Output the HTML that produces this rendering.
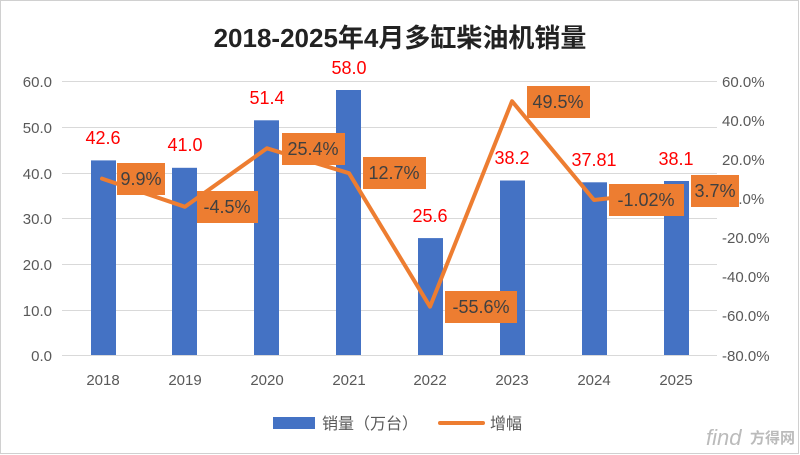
<!DOCTYPE html><html><head><meta charset="utf-8"><style>body{margin:0;background:#fff}svg{display:block}text{font-family:"Liberation Sans","Noto Sans CJK SC",sans-serif}</style></head><body>
<svg width="800" height="455" viewBox="0 0 800 455">
<rect x="0.5" y="0.5" width="798" height="453" fill="#fff" stroke="#d0d0d0"/>
<text x="400" y="47" text-anchor="middle" font-size="26" font-weight="bold" fill="#222">2018-2025年4月多缸柴油机销量</text>
<g stroke="#d9d9d9" stroke-width="1">
<line x1="62" x2="717" y1="81.5" y2="81.5"/><line x1="62" x2="717" y1="127.5" y2="127.5"/><line x1="62" x2="717" y1="173.5" y2="173.5"/><line x1="62" x2="717" y1="218.5" y2="218.5"/><line x1="62" x2="717" y1="264.5" y2="264.5"/><line x1="62" x2="717" y1="310.5" y2="310.5"/><line x1="62" x2="717" y1="355.5" y2="355.5"/>
</g>
<g font-size="15" fill="#595959" text-anchor="end">
<text x="52" y="87">60.0</text><text x="52" y="133">50.0</text><text x="52" y="179">40.0</text><text x="52" y="224">30.0</text><text x="52" y="270">20.0</text><text x="52" y="316">10.0</text><text x="52" y="361">0.0</text>
</g>
<g font-size="15" fill="#595959" text-anchor="start">
<text x="722" y="87">60.0%</text><text x="722" y="126">40.0%</text><text x="722" y="165">20.0%</text><text x="730" y="204">0.0%</text><text x="722" y="243">-20.0%</text><text x="722" y="282">-40.0%</text><text x="722" y="321">-60.0%</text><text x="722" y="361">-80.0%</text>
</g>
<g font-size="15" fill="#595959" text-anchor="middle">
<text x="103" y="385">2018</text><text x="185" y="385">2019</text><text x="267" y="385">2020</text><text x="349" y="385">2021</text><text x="430" y="385">2022</text><text x="512" y="385">2023</text><text x="594" y="385">2024</text><text x="676" y="385">2025</text>
</g>
<g fill="#4472c4">
<rect x="91" y="160.4" width="25" height="194.6"/>
<rect x="172" y="167.8" width="25" height="187.2"/>
<rect x="254" y="120.3" width="25" height="234.7"/>
<rect x="336" y="90" width="25" height="265"/>
<rect x="418" y="238.1" width="25" height="116.9"/>
<rect x="500" y="180.5" width="25" height="174.5"/>
<rect x="582" y="182.3" width="25" height="172.7"/>
<rect x="664" y="181" width="25" height="174"/>
</g>
<g font-size="18" fill="#ff0000" text-anchor="middle">
<text x="103" y="144">42.6</text><text x="185" y="151">41.0</text><text x="267" y="104">51.4</text><text x="349" y="74">58.0</text><text x="430" y="222">25.6</text><text x="512" y="164">38.2</text><text x="594" y="166">37.81</text><text x="676" y="165">38.1</text>
</g>
<polyline points="102,178.6 185,206.8 267,148.3 349,173.2 430,306.7 512,101.2 594,200 676,190.8" fill="none" stroke="#ed7d31" stroke-width="4" stroke-linejoin="round" stroke-linecap="round"/>
<g fill="#ed7d31">
<rect x="117" y="163" width="48" height="32"/><rect x="197" y="191" width="61" height="32"/><rect x="282" y="133" width="63" height="32"/><rect x="363" y="157" width="63" height="32"/><rect x="445" y="291" width="72" height="32"/><rect x="527" y="86" width="63" height="32"/><rect x="609" y="184" width="75" height="32"/><rect x="691" y="175" width="48" height="32"/>
</g>
<g font-size="18" fill="#404040" text-anchor="middle">
<text x="141" y="185">9.9%</text><text x="227" y="213">-4.5%</text><text x="313" y="155">25.4%</text><text x="394" y="179">12.7%</text><text x="481" y="313">-55.6%</text><text x="558" y="108">49.5%</text><text x="646" y="206">-1.02%</text><text x="715" y="197">3.7%</text>
</g>
<rect x="273" y="417" width="42" height="12" fill="#4472c4"/>
<text x="322" y="429" font-size="16" fill="#595959">销量（万台）</text>
<line x1="440" x2="483" y1="423" y2="423" stroke="#ed7d31" stroke-width="4" stroke-linecap="round"/>
<text x="490" y="429" font-size="16" fill="#595959">增幅</text>
<text x="706" y="445" font-size="22" fill="#bbb" font-style="italic">find</text>
<text x="750" y="443" font-size="15" fill="#bbb" font-weight="bold">方得网</text>
</svg></body></html>
